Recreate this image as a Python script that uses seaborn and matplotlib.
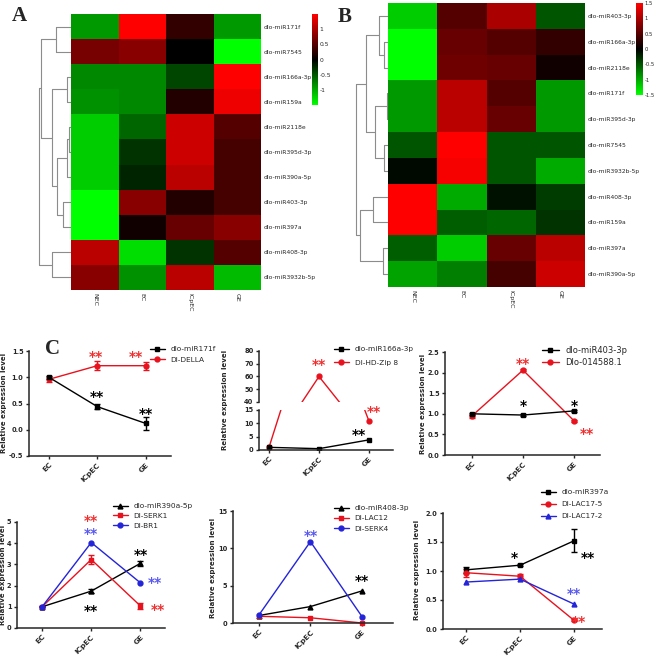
import numpy as np
import pandas as pd
import matplotlib
matplotlib.use('Agg')
import matplotlib.pyplot as plt
import seaborn as sns
from matplotlib.colors import LinearSegmentedColormap
from matplotlib.lines import Line2D

# heatmap data
hm_cols = ['NEC', 'EC', 'ICpEC', 'GE']
rows_a = ['dlo-miR171f', 'dlo-miR7545', 'dlo-miR166a-3p', 'dlo-miR159a', 'dlo-miR2118e',
          'dlo-miR395d-3p', 'dlo-miR390a-5p', 'dlo-miR403-3p', 'dlo-miR397a',
          'dlo-miR408-3p', 'dlo-miR3932b-5p']
vals_a = [[-0.9, 1.5, 0.3, -0.9],
          [0.7, 0.8, 0.0, -1.5],
          [-0.8, -0.8, -0.4, 1.5],
          [-0.85, -0.8, 0.2, 1.4],
          [-1.2, -0.6, 1.2, 0.5],
          [-1.2, -0.3, 1.2, 0.4],
          [-1.2, -0.2, 1.1, 0.4],
          [-1.5, 0.8, 0.2, 0.4],
          [-1.5, 0.1, 0.6, 0.8],
          [1.1, -1.3, -0.3, 0.5],
          [0.8, -0.85, 1.1, -1.1]]
# dendrogram merges: (node a, node b, height)
links_a = [(4, 5, 2), (11, 6, 3.5), (7, 8, 8), (12, 13, 14), (2, 3, 4),
           (15, 14, 18), (0, 1, 15), (17, 16, 29), (9, 10, 18), (18, 19, 31)]

rows_b = ['dlo-miR403-3p', 'dlo-miR166a-3p', 'dlo-miR2118e', 'dlo-miR171f', 'dlo-miR395d-3p',
          'dlo-miR7545', 'dlo-miR3932b-5p', 'dlo-miR408-3p', 'dlo-miR159a',
          'dlo-miR397a', 'dlo-miR390a-5p']
vals_b = [[-1.2, 0.5, 1.0, -0.5],
          [-1.5, 0.6, 0.5, 0.3],
          [-1.5, 0.65, 0.6, 0.1],
          [-0.9, 1.1, 0.5, -0.9],
          [-0.9, 1.1, 0.6, -0.9],
          [-0.5, 1.5, -0.5, -0.5],
          [-0.05, 1.45, -0.5, -1.0],
          [1.5, -1.0, -0.1, -0.35],
          [1.5, -0.55, -0.6, -0.3],
          [-0.55, -1.2, 0.6, 1.1],
          [-0.95, -0.75, 0.4, 1.2]]
links_b = [(1, 2, 4), (0, 11, 9), (3, 4, 1), (5, 6, 4), (13, 14, 13),
           (12, 15, 21), (7, 8, 15), (9, 10, 5), (17, 18, 27), (16, 19, 31)]

# qPCR data
stages = ['EC', 'ICpEC', 'GE']
c1_names = ['dlo-miR171f', 'DI-DELLA']
c1_mir = [1.0, 0.44, 0.12]
c1_mir_err = [0.03, 0.05, 0.12]
c1_tgt = [0.96, 1.22, 1.22]
c1_tgt_err = [0.05, 0.09, 0.08]

c2_names = ['dlo-miR166a-3p', 'DI-HD-Zip 8']
c2_mir = [1.0, 0.5, 3.8]
c2_tgt = [1.0, 60.0, 10.8]

c3_names = ['dlo-miR403-3p', 'Dlo-014588.1']
c3_mir = [1.0, 0.97, 1.07]
c3_mir_err = [0.03, 0.02, 0.03]
c3_tgt = [0.95, 2.06, 0.83]
c3_tgt_err = [0.05, 0.03, 0.03]

c4_names = ['dlo-miR390a-5p', 'DI-SERK1', 'DI-BR1']
c4_mir = [1.0, 1.74, 3.05]
c4_mir_err = [0.03, 0.08, 0.12]
c4_t1 = [1.0, 3.23, 1.04]
c4_t1_err = [0.03, 0.2, 0.15]
c4_t2 = [1.0, 4.03, 2.13]

c5_names = ['dlo-miR408-3p', 'DI-LAC12', 'DI-SERK4']
c5_mir = [1.0, 2.2, 4.3]
c5_t1 = [0.9, 0.7, 0.0]
c5_t2 = [1.05, 10.9, 0.85]

c6_names = ['dlo-miR397a', 'DI-LAC17-5', 'DI-LAC17-2']
c6_mir = [1.02, 1.1, 1.52]
c6_mir_err = [0.05, 0.02, 0.2]
c6_t1 = [0.97, 0.91, 0.15]
c6_t1_err = [0.07, 0.03, 0.02]
c6_t2 = [0.81, 0.86, 0.43]

sns.set_style('ticks')
plt.rcParams['font.family'] = ['DejaVu Sans']

W, H = 656, 658
fig = plt.figure(figsize=(W / 100, H / 100), dpi=100)


def px_axes(x0, y0, x1, y1):
    return fig.add_axes([x0 / W, 1 - y1 / H, (x1 - x0) / W, (y1 - y0) / H])


cmap = LinearSegmentedColormap.from_list('gkr', ['#00ff00', '#000000', '#ff0000'])


def draw_dendro(ax, links, n):
    pos = {i: i + 0.5 for i in range(n)}
    hgt = {i: 0 for i in range(n)}
    for k, (a, b, h) in enumerate(links):
        for c in (a, b):
            ax.plot([hgt[c], h], [pos[c], pos[c]], color='#8c8c8c', lw=0.8)
        ax.plot([h, h], [pos[a], pos[b]], color='#8c8c8c', lw=0.8)
        pos[n + k] = (pos[a] + pos[b]) / 2
        hgt[n + k] = h
    ax.set_ylim(n, 0)
    ax.set_xlim(max(hgt.values()) + 1, 0)
    ax.axis('off')


def heat_panel(vals, rows, links, box, dbox, cbox, ticks, letter, lpos, cfs):
    df = pd.DataFrame(vals, index=rows, columns=hm_cols)
    ax = px_axes(*box)
    cax = px_axes(*cbox)
    sns.heatmap(df, ax=ax, cmap=cmap, vmin=-1.5, vmax=1.5, cbar_ax=cax,
                cbar_kws={'ticks': ticks})
    ax.yaxis.tick_right()
    ax.set_yticklabels(rows, rotation=0, fontsize=4.3)
    ax.set_xticklabels(hm_cols, rotation=270, fontsize=4.5)
    ax.tick_params(length=0, pad=2)
    cax.tick_params(labelsize=cfs, length=0, pad=1)
    cax.set_yticklabels([('%g' % t) for t in ticks])
    dax = px_axes(*dbox)
    draw_dendro(dax, links, len(rows))
    fig.text(lpos[0] / W, 1 - lpos[1] / H, letter, fontsize=15, fontweight='bold',
             family='Liberation Serif', ha='left', va='center')


heat_panel(vals_a, rows_a, links_a, (71, 14, 261, 290), (38, 14, 71, 290),
           (312, 14, 318, 105), [-1, -0.5, 0, 0.5, 1], 'A', (12, 16), 4.3)
heat_panel(vals_b, rows_b, links_b, (388, 3, 585, 287), (355, 3, 388, 287),
           (636, 3, 643, 95), [-1.5, -1, -0.5, 0, 0.5, 1, 1.5], 'B', (338, 17), 3.8)

fig.text(45 / W, 1 - 349 / H, 'C', fontsize=15, fontweight='bold',
         family='Liberation Serif', ha='left', va='center')

BLACK = '#000000'
RED = '#e8121e'
BLUE = '#2424d8'
RED_S = '#f03030'
BLUE_S = '#5a5af0'
x = np.arange(3)


def style_ax(ax, xlim, ylim, yticks, fmt, bottom=True):
    ax.set_xlim(*xlim)
    ax.set_ylim(*ylim)
    ax.set_yticks(yticks)
    ax.set_yticklabels([fmt % t for t in yticks], fontsize=4.8, fontweight='bold')
    sns.despine(ax=ax)
    for s in ('left', 'bottom'):
        ax.spines[s].set_linewidth(1.1)
    ax.tick_params(width=1, length=2.5, pad=1.5)
    if bottom:
        ax.set_xticks(x)
        ax.set_xticklabels(stages, rotation=45, ha='right', fontsize=5.3,
                           fontweight='bold', rotation_mode='anchor')
    else:
        ax.set_xticks([])


def series(ax, y, err, color, marker, ms=3.5):
    ax.errorbar(x, y, yerr=err, color=color, marker=marker, ms=ms, lw=1,
                capsize=2, elinewidth=1, capthick=1, clip_on=False)


def ylabel(xp, yp):
    fig.text(xp / W, 1 - yp / H, 'Relative expression level',
             rotation=90, fontsize=5, fontweight='bold', ha='center', va='center')


def legend(ax, names, colors, markers, xp, yp, fs=5.3, spacing=0.6):
    handles = [Line2D([0], [0], color=c, marker=m, ms=3.5, lw=1) for c, m in zip(colors, markers)]
    ax.legend(handles, names, loc='upper left', bbox_to_anchor=(xp / W, 1 - yp / H),
              bbox_transform=fig.transFigure, frameon=False, fontsize=fs,
              handlelength=2, labelspacing=spacing, borderaxespad=0, borderpad=0)


def stars(ax, xs, ys, txt, color):
    ax.text(xs, ys, txt, color=color, fontsize=10, fontweight='bold',
            ha='center', va='center')


# C1
ax1 = px_axes(29, 351, 171, 456)
series(ax1, c1_tgt, c1_tgt_err, RED, 'o')
series(ax1, c1_mir, c1_mir_err, BLACK, 's')
style_ax(ax1, (-0.41, 2.52), (-0.5, 1.5), [-0.5, 0.0, 0.5, 1.0, 1.5], '%.1f')
stars(ax1, 0.97, 1.38, '**', RED_S)
stars(ax1, 1.8, 1.38, '**', RED_S)
stars(ax1, 1, 0.62, '**', BLACK)
stars(ax1, 2, 0.3, '**', BLACK)
legend(ax1, c1_names, [BLACK, RED], ['s', 'o'], 150, 346)
ylabel(4, 403)

# C2 broken axis
ax2t = px_axes(259, 351, 393, 402)
ax2b = px_axes(259, 410, 393, 450)
for a in (ax2t, ax2b):
    a.plot(x, c2_tgt, color=RED, marker='o', ms=3.5, lw=1)
    a.plot(x, c2_mir, color=BLACK, marker='s', ms=3.5, lw=1)
style_ax(ax2t, (-0.2, 2.48), (40, 80), [40, 50, 60, 70, 80], '%d', bottom=False)
ax2t.spines['bottom'].set_visible(False)
ax2t.tick_params(axis='x', length=0)
style_ax(ax2b, (-0.2, 2.48), (0, 15), [0, 5, 10, 15], '%d')
stars(ax2t, 1, 69, '**', RED_S)
stars(ax2b, 2.1, 14.2, '**', RED_S)
stars(ax2b, 1.8, 5.8, '**', BLACK)
legend(ax2t, c2_names, [BLACK, RED], ['s', 'o'], 334, 346, spacing=1.0)
ylabel(225, 400)

# C3
ax3 = px_axes(445, 352, 600, 455)
series(ax3, c3_tgt, c3_tgt_err, RED, 'o')
series(ax3, c3_mir, c3_mir_err, BLACK, 's')
style_ax(ax3, (-0.53, 2.51), (0, 2.5), [0.0, 0.5, 1.0, 1.5, 2.0, 2.5], '%.1f')
stars(ax3, 1, 2.22, '**', RED_S)
stars(ax3, 1, 1.2, '*', BLACK)
stars(ax3, 2, 1.2, '*', BLACK)
stars(ax3, 2.25, 0.5, '**', RED_S)
legend(ax3, c3_names, [BLACK, RED], ['s', 'o'], 542, 346, fs=6, spacing=0.4)
ylabel(423, 404)

# C4
ax4 = px_axes(17, 522, 165, 628)
series(ax4, c4_mir, c4_mir_err, BLACK, '^')
series(ax4, c4_t1, c4_t1_err, RED, 's')
series(ax4, c4_t2, None, BLUE, 'o')
style_ax(ax4, (-0.51, 2.5), (0, 5), [0, 1, 2, 3, 4, 5], '%d')
stars(ax4, 1, 5.05, '**', RED_S)
stars(ax4, 1, 4.45, '**', BLUE_S)
stars(ax4, 2, 3.45, '**', BLACK)
stars(ax4, 2.3, 2.1, '**', BLUE_S)
stars(ax4, 2.35, 0.85, '**', RED_S)
stars(ax4, 1, 0.8, '**', BLACK)
legend(ax4, c4_names, [BLACK, RED, BLUE], ['^', 's', 'o'], 113, 503, spacing=0.5)
ylabel(3, 575)

# C5
ax5 = px_axes(233, 511, 393, 623)
series(ax5, c5_mir, None, BLACK, '^')
series(ax5, c5_t1, None, RED, 's')
series(ax5, c5_t2, None, BLUE, 'o')
style_ax(ax5, (-0.5, 2.6), (0, 15), [0, 5, 10, 15], '%d')
stars(ax5, 1, 11.6, '**', BLUE_S)
stars(ax5, 2, 5.6, '**', BLACK)
legend(ax5, c5_names, [BLACK, RED, BLUE], ['^', 's', 'o'], 334, 505, spacing=0.55)
ylabel(213, 568)

# C6
ax6 = px_axes(443, 513, 602, 629)
series(ax6, c6_mir, c6_mir_err, BLACK, 's')
series(ax6, c6_t1, c6_t1_err, RED, 'o')
series(ax6, c6_t2, None, BLUE, '^')
style_ax(ax6, (-0.43, 2.52), (0, 2.0), [0.0, 0.5, 1.0, 1.5, 2.0], '%.1f')
stars(ax6, 0.9, 1.22, '*', BLACK)
stars(ax6, 2.25, 1.22, '**', BLACK)
stars(ax6, 2.0, 0.6, '**', BLUE_S)
stars(ax6, 2.1, 0.12, '**', RED_S)
legend(ax6, c6_names, [BLACK, RED, BLUE], ['s', 'o', '^'], 541, 489, spacing=0.8)
ylabel(417, 570)

fig.savefig('out.png', dpi=100)
